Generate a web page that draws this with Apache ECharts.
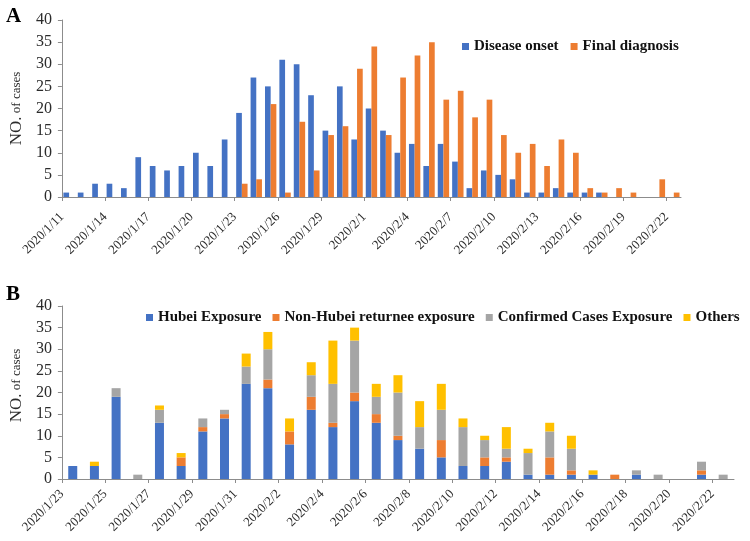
<!DOCTYPE html>
<html>
<head>
<meta charset="utf-8">
<script src="https://cdn.jsdelivr.net/npm/echarts@6/dist/echarts.min.js"></script>
<style>
html,body{margin:0;padding:0;background:#fff;}
#chart{width:750px;height:541px;}
</style>
</head>
<body>
<div id="chart"></div>
<script>
// ---------- Panel A data ----------
const datesA = ['2020/1/11','2020/1/12','2020/1/13','2020/1/14','2020/1/15','2020/1/16','2020/1/17','2020/1/18','2020/1/19','2020/1/20','2020/1/21','2020/1/22','2020/1/23','2020/1/24','2020/1/25','2020/1/26','2020/1/27','2020/1/28','2020/1/29','2020/1/30','2020/1/31','2020/2/1','2020/2/2','2020/2/3','2020/2/4','2020/2/5','2020/2/6','2020/2/7','2020/2/8','2020/2/9','2020/2/10','2020/2/11','2020/2/12','2020/2/13','2020/2/14','2020/2/15','2020/2/16','2020/2/17','2020/2/18','2020/2/19','2020/2/20','2020/2/21','2020/2/22'];
const diseaseOnset = [1,1,3,3,2,9,7,6,7,10,7,13,19,27,25,31,30,23,15,25,13,20,15,10,12,7,12,8,2,6,5,4,1,1,2,1,1,1,0,0,0,0,0];
const finalDiagnosis = [0,0,0,0,0,0,0,0,0,0,0,0,3,4,21,1,17,6,14,16,29,34,14,27,32,35,22,24,18,22,14,10,12,7,13,10,2,1,2,1,0,4,1];

// ---------- Panel B data ----------
const datesB = ['2020/1/23','2020/1/24','2020/1/25','2020/1/26','2020/1/27','2020/1/28','2020/1/29','2020/1/30','2020/1/31','2020/2/1','2020/2/2','2020/2/3','2020/2/4','2020/2/5','2020/2/6','2020/2/7','2020/2/8','2020/2/9','2020/2/10','2020/2/11','2020/2/12','2020/2/13','2020/2/14','2020/2/15','2020/2/16','2020/2/17','2020/2/18','2020/2/19','2020/2/20','2020/2/21','2020/2/22'];
const hubeiExposure   = [3,3,19,0,13,3,11,14,22,21,8,16,12,18,13,9,7,5,3,3,4,1,1,1,1,0,1,0,0,1,0];
const nonHubeiReturnee= [0,0,0,0,0,2,1,1,0,2,3,3,1,2,2,1,0,4,0,2,1,0,4,1,0,1,0,0,0,1,0];
const confirmedCases  = [0,0,2,1,3,0,2,1,4,7,0,5,9,12,4,10,5,7,9,4,2,5,6,5,0,0,1,1,0,2,1];
const others          = [0,1,0,0,1,1,0,0,3,4,3,3,10,3,3,4,6,6,2,1,5,1,2,3,1,0,0,0,0,0,0];

const yTicksMax = 40, yTickStep = 5;

const SERIF = "'Liberation Serif','Times New Roman',serif";
const AXIS_COLOR = '#8c8c8c';
const TEXT_COLOR = '#2b2b2b';

function valueAxis(gi, pad){
  return {
    type:'value', gridIndex:gi, min:0, max:yTicksMax, interval:yTickStep,
    splitLine:{show:false},
    axisLine:{show:true, lineStyle:{color:AXIS_COLOR}},
    axisTick:{show:true, length:4, lineStyle:{color:AXIS_COLOR}},
    axisLabel:{fontFamily:SERIF, fontSize:16, color:TEXT_COLOR, margin:10},
    name:'{a|NO.} {b|of cases}', nameLocation:'middle', nameGap:29, nameRotate:90,
    nameTextStyle:{padding:pad, rich:{a:{fontFamily:SERIF,fontSize:17,color:TEXT_COLOR},b:{fontFamily:SERIF,fontSize:13,color:TEXT_COLOR}}}
  };
}
function hiddenCat(gi, data){
  return {type:'category', gridIndex:gi, position:'bottom', data:data, show:false, boundaryGap:true};
}
function labelCat(gi, data, every, margin){
  return {
    type:'category', gridIndex:gi, position:'bottom', offset:0, data:data.concat(['']), boundaryGap:false,
    axisLine:{show:true, lineStyle:{color:AXIS_COLOR}},
    axisTick:{show:true, interval:every-1, length:4, lineStyle:{color:AXIS_COLOR}},
    axisLabel:{interval:every-1, rotate:45, fontFamily:SERIF, fontSize:13, color:TEXT_COLOR, margin:margin},
    splitLine:{show:false}
  };
}

const chart = echarts.init(document.getElementById('chart'), null, {renderer:'canvas'});
chart.setOption({
  animation:false,
  backgroundColor:'#fff',
  graphic:[
    {type:'text', left:6, top:6, style:{text:'A', font:'bold 21px '+SERIF, fill:'#000'}},
    {type:'text', left:6, top:284, style:{text:'B', font:'bold 21px '+SERIF, fill:'#000'}}
  ],
  grid:[
    {left:61, top:20, width:620, height:177},
    {left:56, top:306, width:678, height:173}
  ],
  legend:[
    {data:['Disease onset','Final diagnosis'], left:457, top:34, itemWidth:7, itemHeight:7, itemGap:12, icon:'rect',
     textStyle:{fontFamily:SERIF, fontWeight:'bold', fontSize:15, color:'#111'}},
    {data:['Hubei Exposure','Non-Hubei returnee exposure','Confirmed Cases Exposure','Others'], left:141, top:305, itemWidth:7, itemHeight:7, itemGap:11, icon:'rect',
     textStyle:{fontFamily:SERIF, fontWeight:'bold', fontSize:15, color:'#111'}}
  ],
  xAxis:[
    hiddenCat(0, datesA),
    labelCat(0, datesA, 3, 18),
    hiddenCat(1, datesB),
    labelCat(1, datesB, 2, 13)
  ],
  yAxis:[valueAxis(0, [0,0,0,0]), valueAxis(1, [0,0,0,14])],
  series:[
    {name:'Disease onset', type:'bar', xAxisIndex:0, yAxisIndex:0, data:diseaseOnset, itemStyle:{color:'#4472C4'}, barGap:'0%', barCategoryGap:'21%'},
    {name:'Final diagnosis', type:'bar', xAxisIndex:0, yAxisIndex:0, data:finalDiagnosis, itemStyle:{color:'#ED7D31'}, barGap:'0%', barCategoryGap:'21%'},
    {name:'Hubei Exposure', type:'bar', stack:'b', xAxisIndex:2, yAxisIndex:1, data:hubeiExposure, itemStyle:{color:'#4472C4'}, barWidth:9},
    {name:'Non-Hubei returnee exposure', type:'bar', stack:'b', xAxisIndex:2, yAxisIndex:1, data:nonHubeiReturnee, itemStyle:{color:'#ED7D31'}, barWidth:9},
    {name:'Confirmed Cases Exposure', type:'bar', stack:'b', xAxisIndex:2, yAxisIndex:1, data:confirmedCases, itemStyle:{color:'#A5A5A5'}, barWidth:9},
    {name:'Others', type:'bar', stack:'b', xAxisIndex:2, yAxisIndex:1, data:others, itemStyle:{color:'#FFC000'}, barWidth:9}
  ]
});
</script>
</body>
</html>
